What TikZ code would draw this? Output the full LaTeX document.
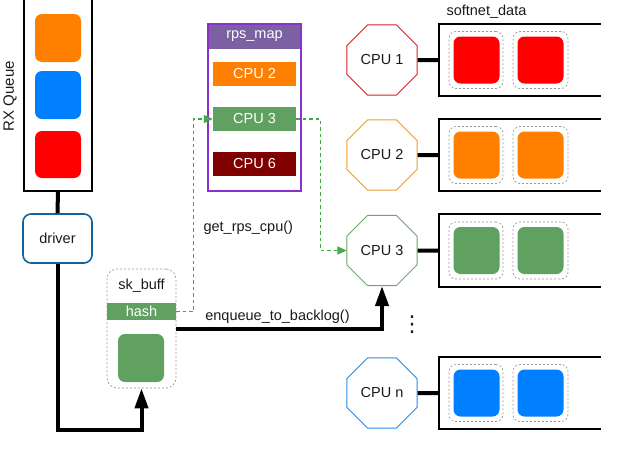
\documentclass[tikz,border=0pt]{standalone}
\usepackage{fontspec}
\setmainfont{Liberation Sans}
\newfontfamily\dejavu{DejaVu Sans}
\usetikzlibrary{shapes.geometric,arrows.meta,calc}
\definecolor{qorange}{HTML}{FF8000}
\definecolor{qblue}{HTML}{0080FF}
\definecolor{qred}{HTML}{FF0000}
\definecolor{qgreen}{HTML}{60A060}
\definecolor{qdark}{HTML}{800000}
\definecolor{rpshead}{HTML}{7D60A2}
\definecolor{rpsborder}{HTML}{8A30CC}
\definecolor{drvblue}{HTML}{10639B}
\definecolor{gdash}{HTML}{3FA83F}
\definecolor{oRed}{HTML}{DD2228}
\definecolor{oOrange}{HTML}{F09A30}
\definecolor{oGreen}{HTML}{68A868}
\definecolor{oBlue}{HTML}{2A8AE8}
\definecolor{txt}{HTML}{1A1A1A}
\begin{document}
\begin{tikzpicture}[x=1pt,y=-1pt,
  font=\fontsize{14.5}{17}\selectfont, text=txt,
  sq/.style={rounded corners=7pt, minimum width=46pt, minimum height=47pt, inner sep=0pt},
  tubebox/.style={draw=none, inner sep=0pt},
  tubeline/.style={line width=2pt, black},
  octa/.style={regular polygon, regular polygon sides=8, minimum size=75.8pt, inner sep=0pt, fill=white, line width=1pt},
  slot/.style={draw=gray!80, dash pattern=on 2pt off 2pt, line width=0.7pt, rounded corners=7pt, minimum height=57pt, inner sep=0pt},
  conn/.style={line width=4pt, black},
  thickarrow/.style={line width=4pt, black, -{Triangle[length=20pt,width=13pt]}},
  gconn/.style={draw=gdash, line width=1.2pt, dash pattern=on 3.5pt off 3pt, -{Triangle[length=9pt,width=8pt,fill=qgreen]}},
  rpsentry/.style={minimum width=83pt, minimum height=24pt, inner sep=0pt, text=white},
]
\useasboundingbox (0,0) rectangle (640,453);

% RX Queue
\node[tubebox, minimum width=68pt, minimum height=191pt] (rxq) at (58,95.5) {};
\draw[tubeline] (rxq.north west) -- (rxq.south west) -- (rxq.south east) -- (rxq.north east);
\node[sq, fill=qorange, minimum height=48pt] (rx1) at (58,38) {};
\node[sq, fill=qblue, minimum height=48pt] (rx2) at (58,95) {};
\node[sq, fill=qred, minimum height=47pt] (rx3) at (58,154.5) {};
\node[rotate=90, font=\fontsize{15}{17}\selectfont] (rxlabel) at (10,96) {RX Queue};

% driver
\node[draw=drvblue, line width=1.6pt, rounded corners=8pt, minimum width=69pt, minimum height=49pt, inner sep=0pt, fill=white] (driver) at (57.5,238.5) {driver};
\draw[conn] (rxq.south) -- (driver.north);

% sk_buff
\node[draw=gray!80, dash pattern=on 2pt off 2pt, line width=0.7pt, rounded corners=10pt, minimum width=69pt, minimum height=119pt, inner sep=0pt] (skbuff) at (141.5,328.5) {};
\node (sklabel) at (141.5,286) {sk\_buff};
\node[fill=qgreen, text=white, minimum width=69pt, minimum height=17pt, inner sep=0pt] (hash) at (141.5,311.5) {hash};
\node[sq, fill=qgreen, minimum height=48pt] (skpkt) at (141,358) {};

\draw[thickarrow] (driver.south) |- ($(skbuff.south)+(0,42)$) -- (skbuff.south);

% rps_map
\node[fill=rpshead, text=white, minimum width=93pt, minimum height=25pt, inner sep=0pt] (rpshd) at (254.5,36.5) {rps\_map};
\node[draw=rpsborder, line width=1.2pt, minimum width=93pt, minimum height=167pt, inner sep=0pt] (rpsmap) at (254.5,107.5) {};
\node[rpsentry, fill=qorange] (rps2) at (254.5,74) {CPU 2};
\node[rpsentry, fill=qgreen] (rps3) at (254.5,119) {CPU 3};
\node[rpsentry, fill=qdark] (rps6) at (254.5,164) {CPU 6};

% softnet rows
\node[anchor=west] (sdlabel) at (443,12) {softnet\_data};
\foreach \n/\y/\c/\oc in {1/60/qred/oRed, 2/155/qorange/oOrange, 3/250.5/qgreen/oGreen, n/393/qblue/oBlue}{
  \node[tubebox, minimum width=162pt, minimum height=72pt] (sd\n) at (520,\y) {};
  \draw[tubeline] (sd\n.north east) -- (sd\n.north west) -- (sd\n.south west) -- (sd\n.south east);
  \node[slot, minimum width=54pt] (sd\n-a) at (476,\y) {};
  \node[slot, minimum width=55pt] (sd\n-b) at (540.5,\y) {};
  \node[sq, fill=\c] (pk\n-a) at (476.5,\y) {};
  \node[sq, fill=\c] (pk\n-b) at (540.5,\y) {};
  \node[octa, draw=\oc] (cpu\n) at (382,\y) {CPU \n};
  \draw[conn] (cpu\n) -- (sd\n);
}

% connectors
\draw[gconn] (hash.east) -| ($(rps3.west)+(-19,0)$) -- (rps3.west);
\draw[gconn] (rps3.east) -| ($(cpu3.west)+(-26,0)$) -- (cpu3.west);
\node[anchor=west] (getrps) at (200,228) {get\_rps\_cpu()};

\draw[thickarrow] (skbuff.east) -| (cpu3.south);
\node (enq) at (277.5,317) {enqueue\_to\_backlog()};

\node[font=\dejavu\fontsize{22}{24}\selectfont, inner sep=0pt] (dots) at (412,325) {⋮};
\end{tikzpicture}
\end{document}
